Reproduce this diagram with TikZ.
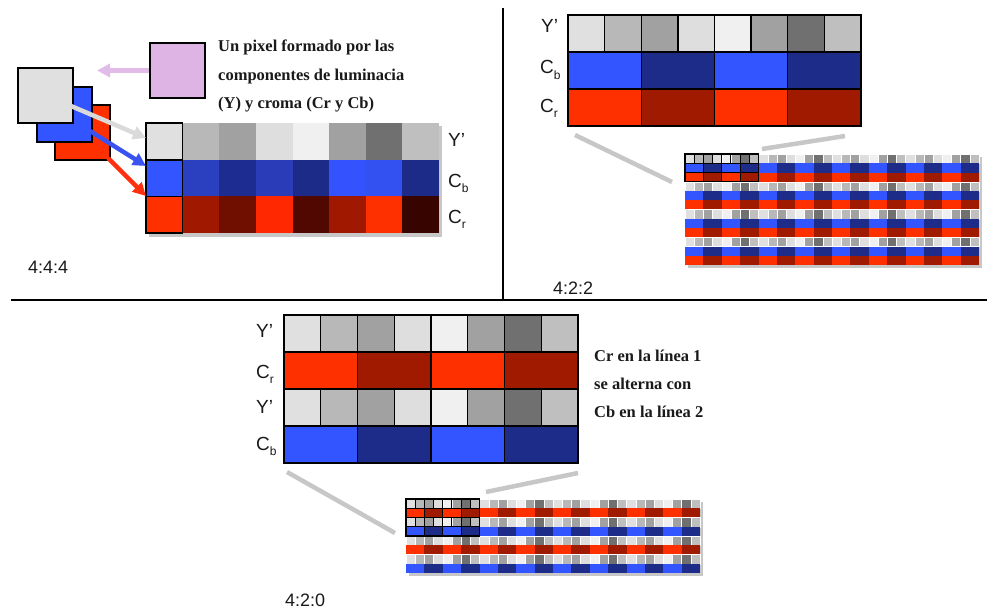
\documentclass[tikz,border=0pt]{standalone}
\usepackage{fontspec}
\setmainfont{Liberation Sans}
\newfontfamily\notefont{Liberation Serif}
\usetikzlibrary{arrows.meta}
\definecolor{bb}{HTML}{3355FF}
\definecolor{bd}{HTML}{1C2C88}
\definecolor{rb}{HTML}{FF3000}
\definecolor{rd}{HTML}{A01A00}
\definecolor{cb0}{HTML}{3355FF}
\definecolor{cb1}{HTML}{2A40C0}
\definecolor{cb2}{HTML}{1C2C90}
\definecolor{cb3}{HTML}{2A3CB8}
\definecolor{cb4}{HTML}{1C2A88}
\definecolor{cb5}{HTML}{3552FF}
\definecolor{cb6}{HTML}{3350F0}
\definecolor{cb7}{HTML}{1C2A88}
\definecolor{cr0}{HTML}{FF3000}
\definecolor{cr1}{HTML}{A01800}
\definecolor{cr2}{HTML}{700E00}
\definecolor{cr3}{HTML}{FF2800}
\definecolor{cr4}{HTML}{500800}
\definecolor{cr5}{HTML}{A01800}
\definecolor{cr6}{HTML}{FF3000}
\definecolor{cr7}{HTML}{380400}
\definecolor{lilac}{HTML}{DEB4E4}
\definecolor{lilacarrow}{HTML}{E2BCE8}
\definecolor{grayarrow}{HTML}{DADADA}
\definecolor{bluearrow}{HTML}{3A52F0}
\definecolor{redarrow}{HTML}{FF3010}
\definecolor{txt}{HTML}{1A1A1A}
\newcommand\lsub[1]{\raisebox{-0.5ex}{\fontsize{12}{12}\selectfont #1}}
\begin{document}
\begin{tikzpicture}[x=1pt,y=-1pt,
  lbl/.style={font=\fontsize{19}{19}\selectfont, text=txt, inner sep=0pt, anchor=base west},
  note/.style={font=\notefont\bfseries\fontsize{16.5}{16.5}\selectfont, text=txt, inner sep=0pt, anchor=base west},
  ratio/.style={font=\fontsize{18}{18}\selectfont, text=txt, inner sep=0pt, anchor=west},
  sq/.style={draw=black, line width=1.5pt, minimum size=55pt, inner sep=0pt},
  fat/.style={line width=4.5pt, -{Triangle[length=13pt,width=13pt]}},
  zoomline/.style={draw=black!22, line width=4.5pt},
  sep/.style={draw=black, line width=1.4pt},
  shadow/.style={fill=black!22}]
\useasboundingbox (0,0) rectangle (987,610);
\fill[white] (0,0) rectangle (987,610);

% separators
\coordinate (hL) at (11,300);
\coordinate (hR) at (987,300);
\coordinate (vT) at (503,8);
\coordinate (vB) at (503,300);
\draw[sep] (hL) -- (hR);
\draw[sep] (vT) -- (vB);

% ---------------- 4:4:4 ----------------
\fill[shadow] (149,126) rectangle (442,237);
\foreach \c in {0,...,7}{
  \pgfmathtruncatemacro{\gv}{{12,28,37,13,6,37,56,25}[\c]}
  \fill[black!\gv] (146+\c*36.625,123) rectangle ++(36.625,36.7);
  \fill[cb\c] (146+\c*36.625,159.7) rectangle ++(36.625,36.7);
  \fill[cr\c] (146+\c*36.625,196.4) rectangle ++(36.625,36.6);
}
\node[draw=black, line width=1.6pt, minimum width=36.6pt, minimum height=36.7pt, inner sep=0pt] (c444y) at (164.3,141.35) {};
\node[draw=black, line width=1.6pt, minimum width=36.6pt, minimum height=36.7pt, inner sep=0pt] (c444b) at (164.3,178.05) {};
\node[draw=black, line width=1.6pt, minimum width=36.6pt, minimum height=36.6pt, inner sep=0pt] (c444r) at (164.3,214.7) {};

\node[lbl] (l444y) at (448,146) {Y'};
\node[lbl] (l444b) at (448,187) {C\lsub{b}};
\node[lbl] (l444r) at (448,223) {C\lsub{r}};

% stacked pixel planes
\node[sq, fill=rb] (sqR) at (82.5,132.5) {};
\node[sq, fill=bb] (sqB) at (64.5,114.5) {};
\node[sq, fill=black!12] (sqY) at (45.5,95.5) {};
\node[sq, fill=lilac] (sqP) at (177.5,70.5) {};

\coordinate (pTip) at (97,70.5);
\draw[fat, draw=lilacarrow] (sqP.west) -- (pTip);

\coordinate (gS) at (71,106);
\coordinate (gT) at (146,138);
\coordinate (bS) at (90,131);
\coordinate (bT) at (146,166);
\coordinate (rS) at (108,158);
\coordinate (rT) at (146,196);
\draw[fat, draw=grayarrow] (gS) -- (gT);
\draw[fat, draw=bluearrow] (bS) -- (bT);
\draw[fat, draw=redarrow] (rS) -- (rT);

\node[note] (t1) at (218,52) {Un pixel formado por las};
\node[note] (t2) at (218,80) {componentes de luminacia};
\node[note] (t3) at (218,108) {(Y) y croma (Cr y Cb)};

\node[ratio] (r444) at (28,267) {4:4:4};

% ---------------- 4:2:2 ----------------
\foreach \c in {0,...,7}{
  \pgfmathtruncatemacro{\gv}{{12,28,37,13,6,37,56,25}[\c]}
  \filldraw[fill=black!\gv, draw=black, line width=1.3pt] (568+\c*36.625,15) rectangle ++(36.625,37);
}
\foreach \c in {0,...,3}{
  \pgfmathtruncatemacro{\alt}{mod(\c,2)}
  \ifnum\alt=0 \def\cb{bb}\def\cr{rb}\else\def\cb{bd}\def\cr{rd}\fi
  \filldraw[fill=\cb, draw=black, line width=1.3pt] (568+\c*73.25,52) rectangle ++(73.25,37);
  \filldraw[fill=\cr, draw=black, line width=1.3pt] (568+\c*73.25,89) rectangle ++(73.25,37);
}
\node[lbl] (l422y) at (541,33) {Y'};
\node[lbl] (l422b) at (540,74) {C\lsub{b}};
\node[lbl] (l422r) at (540,112) {C\lsub{r}};

\coordinate (z2a) at (575,135);
\coordinate (z2b) at (672,182);
\coordinate (z2c) at (762,149);
\coordinate (z2d) at (845,136);
\draw[zoomline] (z2a) -- (z2b);
\draw[zoomline] (z2c) -- (z2d);

\fill[shadow] (688,157) rectangle (982,268);
\foreach \r in {0,...,11}{
  \foreach \c in {0,...,31}{
    \pgfmathtruncatemacro{\t}{mod(\r,3)}
    \pgfmathtruncatemacro{\alt}{mod(floor(\c/2),2)}
    \pgfmathtruncatemacro{\gv}{{12,28,37,13,6,37,56,25}[mod(\c,8)]}
    \ifcase\t
      \filldraw[fill=black!\gv, draw=white, line width=0.3pt] (685+\c*9.1875,154+\r*9.25) rectangle ++(9.1875,9.25);
    \or
      \ifnum\alt=0 \def\cc{bb}\else\def\cc{bd}\fi
      \fill[fill=\cc] (685+\c*9.1875,154+\r*9.25) rectangle ++(9.1875,9.25);
    \or
      \ifnum\alt=0 \def\cc{rb}\else\def\cc{rd}\fi
      \fill[fill=\cc] (685+\c*9.1875,154+\r*9.25) rectangle ++(9.1875,9.25);
    \fi
  }
}
\foreach \c in {0,...,7}{
  \draw[line width=1.1pt] (685+\c*9.1875,154) rectangle ++(9.1875,9.25);
}
\foreach \c in {0,...,3}{
  \foreach \r in {1,2}{
    \draw[line width=1.1pt] (685+\c*18.375,154+\r*9.25) rectangle ++(18.375,9.25);
  }
}
\node[ratio] (r422) at (553,288) {4:2:2};

% ---------------- 4:2:0 ----------------
\foreach \c in {0,...,7}{
  \pgfmathtruncatemacro{\gv}{{12,28,37,13,6,37,56,25}[\c]}
  \filldraw[fill=black!\gv, draw=black, line width=1.3pt] (284+\c*36.75,315) rectangle ++(36.75,37);
  \filldraw[fill=black!\gv, draw=black, line width=1.3pt] (284+\c*36.75,389) rectangle ++(36.75,37);
}
\foreach \c in {0,...,3}{
  \pgfmathtruncatemacro{\alt}{mod(\c,2)}
  \ifnum\alt=0 \def\cb{bb}\def\cr{rb}\else\def\cb{bd}\def\cr{rd}\fi
  \filldraw[fill=\cr, draw=black, line width=1.3pt] (284+\c*73.5,352) rectangle ++(73.5,37);
  \filldraw[fill=\cb, draw=black, line width=1.3pt] (284+\c*73.5,426) rectangle ++(73.5,37);
}
\node[lbl] (l420y1) at (256,337) {Y'};
\node[lbl] (l420r) at (256,378) {C\lsub{r}};
\node[lbl] (l420y2) at (256,413) {Y'};
\node[lbl] (l420b) at (256,450) {C\lsub{b}};

\node[note] (t4) at (594,361) {Cr en la línea 1};
\node[note] (t5) at (594,389) {se alterna con};
\node[note] (t6) at (594,417) {Cb en la línea 2};

\coordinate (z0a) at (287,472);
\coordinate (z0b) at (395,533);
\coordinate (z0c) at (486,492);
\coordinate (z0d) at (578,473);
\draw[zoomline] (z0a) -- (z0b);
\draw[zoomline] (z0c) -- (z0d);

\fill[shadow] (409,502) rectangle (703,576);
\foreach \r in {0,...,7}{
  \foreach \c in {0,...,31}{
    \pgfmathtruncatemacro{\t}{mod(\r,4)}
    \pgfmathtruncatemacro{\alt}{mod(floor(\c/2),2)}
    \pgfmathtruncatemacro{\gv}{{12,28,37,13,6,37,56,25}[mod(\c,8)]}
    \ifcase\t
      \filldraw[fill=black!\gv, draw=white, line width=0.3pt] (406+\c*9.1875,499+\r*9.25) rectangle ++(9.1875,9.25);
    \or
      \ifnum\alt=0 \def\cc{rb}\else\def\cc{rd}\fi
      \fill[fill=\cc] (406+\c*9.1875,499+\r*9.25) rectangle ++(9.1875,9.25);
    \or
      \filldraw[fill=black!\gv, draw=white, line width=0.3pt] (406+\c*9.1875,499+\r*9.25) rectangle ++(9.1875,9.25);
    \or
      \ifnum\alt=0 \def\cc{bb}\else\def\cc{bd}\fi
      \fill[fill=\cc] (406+\c*9.1875,499+\r*9.25) rectangle ++(9.1875,9.25);
    \fi
  }
}
\foreach \c in {0,...,7}{
  \draw[line width=1.1pt] (406+\c*9.1875,499) rectangle ++(9.1875,9.25);
  \draw[line width=1.1pt] (406+\c*9.1875,517.5) rectangle ++(9.1875,9.25);
}
\foreach \c in {0,...,3}{
  \draw[line width=1.1pt] (406+\c*18.375,508.25) rectangle ++(18.375,9.25);
  \draw[line width=1.1pt] (406+\c*18.375,526.75) rectangle ++(18.375,9.25);
}
\node[ratio] (r420) at (285,600) {4:2:0};
\end{tikzpicture}
\end{document}
